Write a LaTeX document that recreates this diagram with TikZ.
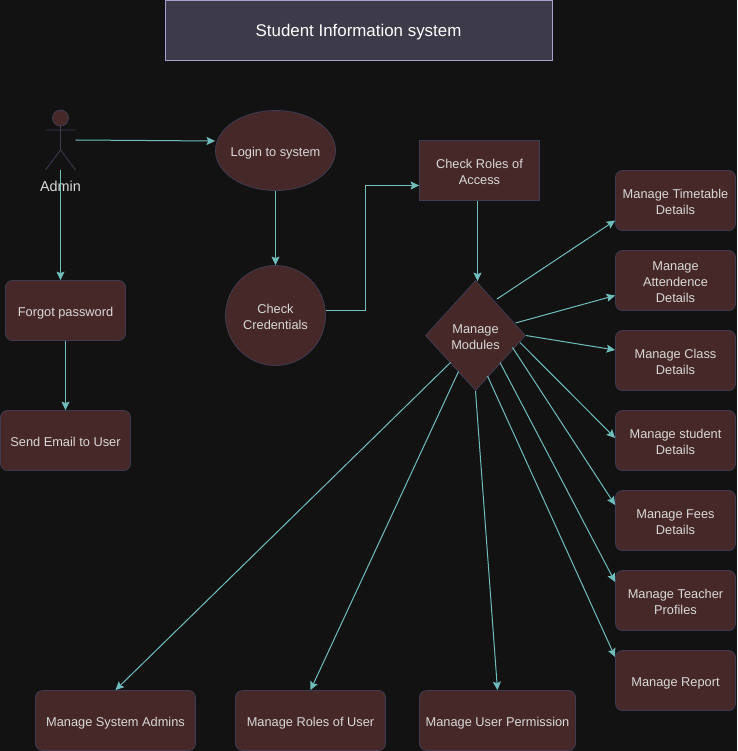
\documentclass[tikz,border=0pt]{standalone}
\usepackage{fontspec}
\setmainfont{Liberation Sans}
\usetikzlibrary{shapes.geometric,arrows.meta}
\definecolor{bgc}{HTML}{121212}
\definecolor{boxf}{HTML}{472828}
\definecolor{boxl}{HTML}{3F3B52}
\definecolor{edgec}{HTML}{6FBDBD}
\definecolor{txtc}{HTML}{D8D8D8}
\definecolor{titlef}{HTML}{3D3A4A}
\definecolor{titlel}{HTML}{A8A0D0}
\newcommand{\tx}[1]{\vbox{\kern5.5pt\hbox{\begin{tabular}{@{}c@{}}#1\end{tabular}}}}
\newcommand{\ttx}[1]{\vbox{\kern3.5pt\hbox{#1}}}
\tikzset{
 x=1pt,y=-1pt,
 base/.style={draw=boxl,fill=boxf,line width=0.8pt,text=txtc,font=\fontsize{12.8}{16}\selectfont,inner sep=0pt},
 rbox/.style={base,rectangle,rounded corners=7pt,minimum height=60pt},
 sbox/.style={base,rectangle,minimum height=60pt,minimum width=120pt},
 conn/.style={draw=edgec,line width=1pt,-{Stealth[length=8.5pt,width=8pt,inset=1.5pt]}},
 actorl/.style={draw=boxl,line width=0.8pt}
}
\begin{document}
\begin{tikzpicture}
\useasboundingbox[fill=bgc] (0,0) rectangle (737,751);
\node[draw=titlel,fill=titlef,line width=0.8pt,text=white,font=\fontsize{16.9}{20}\selectfont,minimum width=387pt,minimum height=60pt,inner sep=0pt] (title) at (358.5,30.5) {\ttx{Student Information system}};
% actor
\node[circle,draw=boxl,fill=boxf,line width=0.8pt,minimum size=16pt,inner sep=0pt] (head) at (60.5,118) {};
\coordinate (neck) at (60.5,126);
\coordinate (hip) at (60.5,150);
\coordinate (armL) at (45.5,130);
\coordinate (armR) at (75.5,130);
\coordinate (legL) at (45.5,170);
\coordinate (legR) at (75.5,170);
\coordinate (actorE) at (75.5,140);
\coordinate (actorS) at (60.5,170);
\draw[actorl] (neck) -- (hip) (armL) -- (armR) (legL) -- (hip) -- (legR);
\node[text=txtc,font=\fontsize{14.4}{16}\selectfont,inner sep=0pt] (admin) at (60.5,186) {Admin};
\node[base,ellipse,minimum width=120pt,minimum height=80pt] (login) at (275.5,150.5) {\makebox[70pt]{\tx{Login to system}}};
\node[base,circle,minimum size=100pt] (cred) at (275.5,315.5) {\tx{Check\\Credentials}};
\node[sbox] (roles) at (479.5,170.5) {\tx{Check Roles of\\Access}};
\node[base,diamond,minimum width=100pt,minimum height=110pt,aspect=0.9] (mods) at (475.5,335.5) {\tx{Manage\\Modules}};
\node[rbox,minimum width=120pt] (forgot) at (65.5,310.5) {\tx{Forgot password}};
\node[rbox,minimum width=130pt] (email) at (65.5,440.5) {\tx{Send Email to User}};
\node[rbox,minimum width=120pt] (tt) at (675.5,200.5) {\tx{Manage Timetable\\Details}};
\node[rbox,minimum width=120pt] (att) at (675.5,280.5) {\tx{Manage\\Attendence\\Details}};
\node[rbox,minimum width=120pt] (cls) at (675.5,360.5) {\tx{Manage Class\\Details}};
\node[rbox,minimum width=120pt] (stu) at (675.5,440.5) {\tx{Manage student\\Details}};
\node[rbox,minimum width=120pt] (fee) at (675.5,520.5) {\tx{Manage Fees\\Details}};
\node[rbox,minimum width=120pt] (tch) at (675.5,600.5) {\tx{Manage Teacher\\Profiles}};
\node[rbox,minimum width=120pt] (rep) at (675.5,680.5) {\tx{Manage Report}};
\node[rbox,minimum width=160pt] (sys) at (115.5,720.5) {\tx{Manage System Admins}};
\node[rbox,minimum width=150pt] (rol) at (310.5,720.5) {\tx{Manage Roles of User}};
\node[rbox,minimum width=156pt] (per) at (497.5,720.5) {\tx{Manage User Permission}};
% connectors
\draw[conn] (actorE) -- ([yshift=9.5]login.west);
\draw[conn] (actorS) -- ([xshift=-5]forgot.north);
\draw[conn] (login.south) -- (cred.north);
\draw[conn] (forgot.south) -- (email.north);
\draw[conn] ([yshift=5]cred.east) -- (365.5,310.5) -- (365.5,185.5) -- ([yshift=-15]roles.west);
\draw[conn] ([xshift=-2]roles.south) -- ([xshift=2,yshift=-1]mods.north);
\draw[conn] ([xshift=21.5,yshift=36.5]mods.center) -- ([yshift=-20]tt.west);
\draw[conn] ([xshift=40,yshift=12.5]mods.center) -- ([yshift=-15]att.west);
\draw[conn] (mods.east) -- ([yshift=10.5]cls.west);
\draw[conn] ([xshift=44.5,yshift=-7]mods.center) -- ([yshift=2.5]stu.west);
\draw[conn] ([xshift=37,yshift=-12]mods.center) -- ([yshift=15.5]fee.west);
\draw[conn] ([xshift=24.5,yshift=-27]mods.center) -- ([yshift=18.5]tch.west);
\draw[conn] ([xshift=12,yshift=-40.5]mods.center) -- ([yshift=23.5]rep.west);
\draw[conn] (mods.south) -- (per.north);
\draw[conn] ([xshift=-17,yshift=-36]mods.center) -- (rol.north);
\draw[conn] ([xshift=-25,yshift=-27]mods.center) -- (sys.north);
\end{tikzpicture}
\end{document}
